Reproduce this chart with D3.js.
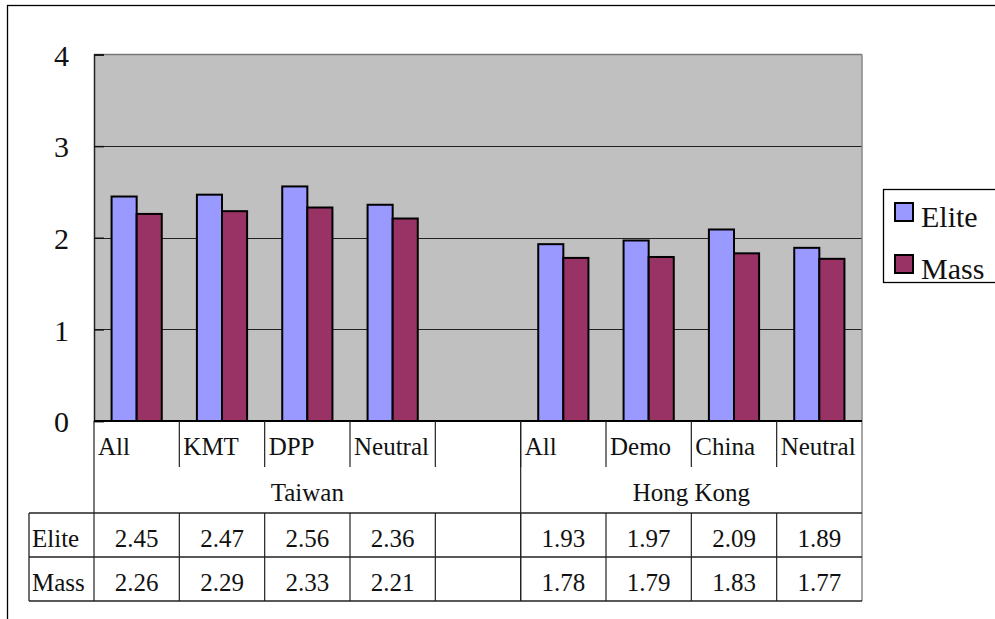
<!DOCTYPE html>
<html>
<head>
<meta charset="utf-8">
<script src="https://cdn.jsdelivr.net/npm/d3@7"></script>
<style>
  html, body { margin: 0; padding: 0; background: #fff; }
  svg { display: block; }
  svg text { font-family: "Liberation Serif", "Times New Roman", Tinos, "DejaVu Serif", "Noto Serif", serif !important; fill: #111; }
</style>
</head>
<body>
<svg id="chart" width="995" height="619"></svg>
<script>
// Categories along the x axis (blank slot separates the two regions)
const categories = ["All", "KMT", "DPP", "Neutral", "", "All", "Demo", "China", "Neutral"];
// Region labels and the category slots each one spans
const groupNames = ["Taiwan", "Hong Kong"];
const groupStart = [0, 5];
const groupEnd = [4, 8];
// Series
const seriesNames = ["Elite", "Mass"];
const eliteValues = [2.45, 2.47, 2.56, 2.36, null, 1.93, 1.97, 2.09, 1.89];
const massValues  = [2.26, 2.29, 2.33, 2.21, null, 1.78, 1.79, 1.83, 1.77];
// Y axis ticks
const yTicks = [0, 1, 2, 3, 4];

const colors = { Elite: "#9999ff", Mass: "#993366" };
const seriesValues = { Elite: eliteValues, Mass: massValues };
const serif = "'Liberation Serif', 'Times New Roman', Tinos, 'DejaVu Serif', 'Noto Serif', serif";

const svg = d3.select("#chart").attr("font-family", serif);

// Outer chart frame
svg.append("rect")
  .attr("x", 7.5).attr("y", 5.5)
  .attr("width", 1100).attr("height", 700)
  .attr("fill", "none").attr("stroke", "#000").attr("stroke-width", 1.3);

const plotLeft = 94, plotRight = 862, plotTop = 54.5, plotBottom = 421;

const x = d3.scaleBand()
  .domain(d3.range(categories.length))
  .range([plotLeft, plotRight])
  .padding(0);

const xInner = d3.scaleBand()
  .domain(seriesNames)
  .range([0, x.bandwidth()])
  .paddingInner(0)
  .paddingOuter(0.7);

const y = d3.scaleLinear().domain([0, 4]).range([plotBottom, plotTop]);

// Plot area background
svg.append("rect")
  .attr("x", plotLeft).attr("y", plotTop)
  .attr("width", plotRight - plotLeft).attr("height", plotBottom - plotTop)
  .attr("fill", "#c0c0c0");

// Gridlines
svg.append("g")
  .selectAll("line")
  .data(yTicks.filter(t => t > 0 && t < 4))
  .join("line")
  .attr("x1", plotLeft).attr("x2", plotRight)
  .attr("y1", d => Math.round(y(d)) + 0.5).attr("y2", d => Math.round(y(d)) + 0.5)
  .attr("stroke", "#222").attr("stroke-width", 1);

// Plot border: top and right in grey
svg.append("line")
  .attr("x1", plotLeft).attr("x2", plotRight).attr("y1", plotTop).attr("y2", plotTop)
  .attr("stroke", "#777").attr("stroke-width", 1.5);
svg.append("line")
  .attr("x1", plotRight).attr("x2", plotRight).attr("y1", plotTop).attr("y2", 601)
  .attr("stroke", "#888").attr("stroke-width", 1.5);

// Bars
seriesNames.forEach(s => {
  svg.append("g")
    .selectAll("rect")
    .data(seriesValues[s].map((v, i) => ({ i, v })).filter(d => d.v != null))
    .join("rect")
    .attr("x", d => x(d.i) + xInner(s))
    .attr("y", d => y(d.v))
    .attr("width", xInner.bandwidth())
    .attr("height", d => y(0) - y(d.v))
    .attr("fill", colors[s])
    .attr("stroke", "#000")
    .attr("stroke-width", 2);
});

// Y axis
const yAxis = d3.axisLeft(y).tickValues(yTicks).tickSize(-10).tickPadding(25).tickFormat(d3.format("d"));
const yg = svg.append("g").attr("transform", `translate(${plotLeft},0)`).call(yAxis)
  .attr("font-family", serif);
yg.select(".domain").attr("stroke", "#222").attr("stroke-width", 1.5);
yg.selectAll(".tick line").attr("stroke", "#111").attr("stroke-width", 1.5);
yg.selectAll(".tick text")
  .attr("font-size", 30)
  .attr("fill", "#222")
  .attr("dy", "0.36em");

// X axis baseline
svg.append("line")
  .attr("x1", plotLeft).attr("x2", plotRight).attr("y1", plotBottom).attr("y2", plotBottom)
  .attr("stroke", "#000").attr("stroke-width", 1.8);

// Category row
const catRowBottom = 467, groupRowBottom = 513, row1Bottom = 557, row2Bottom = 601;
const tableLeft = 29;
const lineColor = "#222";

// separators between categories in the category row
svg.append("g")
  .selectAll("line")
  .data(d3.range(1, categories.length))
  .join("line")
  .attr("x1", i => x(i)).attr("x2", i => x(i))
  .attr("y1", plotBottom).attr("y2", catRowBottom)
  .attr("stroke", lineColor).attr("stroke-width", 1.2);

svg.append("g")
  .selectAll("text")
  .data(categories)
  .join("text")
  .attr("x", (d, i) => x(i) + 4)
  .attr("y", 455)
  .attr("font-size", 25)
  .text(d => d);

// Region row
svg.append("g")
  .selectAll("text")
  .data(groupNames)
  .join("text")
  .attr("x", (d, k) => (x(groupStart[k]) + x(groupEnd[k]) + x.bandwidth()) / 2)
  .attr("y", 501)
  .attr("text-anchor", "middle")
  .attr("font-size", 25)
  .text(d => d);

// Region divider (full height through region row and data table)
svg.append("line")
  .attr("x1", x(groupStart[1])).attr("x2", x(groupStart[1]))
  .attr("y1", plotBottom).attr("y2", row2Bottom)
  .attr("stroke", lineColor).attr("stroke-width", 1.2);

// Left edge of category/region rows and table
svg.append("line")
  .attr("x1", plotLeft).attr("x2", plotLeft).attr("y1", plotBottom).attr("y2", row2Bottom)
  .attr("stroke", lineColor).attr("stroke-width", 1.2);

// Table horizontal lines
[groupRowBottom, row1Bottom, row2Bottom].forEach(yy => {
  svg.append("line")
    .attr("x1", tableLeft).attr("x2", plotRight).attr("y1", yy).attr("y2", yy)
    .attr("stroke", lineColor).attr("stroke-width", 1.3);
});
svg.append("line")
  .attr("x1", tableLeft).attr("x2", tableLeft).attr("y1", groupRowBottom).attr("y2", row2Bottom)
  .attr("stroke", lineColor).attr("stroke-width", 1.3);

// Table vertical lines between value cells
svg.append("g")
  .selectAll("line")
  .data(d3.range(1, categories.length))
  .join("line")
  .attr("x1", i => x(i)).attr("x2", i => x(i))
  .attr("y1", groupRowBottom).attr("y2", row2Bottom)
  .attr("stroke", lineColor).attr("stroke-width", 1.2);

// Table rows
const rowBaselines = [547, 591];
seriesNames.forEach((s, r) => {
  svg.append("text")
    .attr("x", tableLeft + 3)
    .attr("y", rowBaselines[r])
    .attr("font-size", 25)
    .text(s);
  svg.append("g")
    .selectAll("text")
    .data(seriesValues[s].map((v, i) => ({ i, v })).filter(d => d.v != null))
    .join("text")
    .attr("x", d => x(d.i) + x.bandwidth() / 2)
    .attr("y", rowBaselines[r])
    .attr("text-anchor", "middle")
    .attr("font-size", 25)
    .text(d => d3.format(".2f")(d.v));
});

// Legend
const legend = svg.append("g");
legend.append("rect")
  .attr("x", 883.5).attr("y", 189.5)
  .attr("width", 130).attr("height", 93)
  .attr("fill", "#fff").attr("stroke", "#000").attr("stroke-width", 1.3);
seriesNames.forEach((s, k) => {
  const yy = 203 + k * 52;
  legend.append("rect")
    .attr("x", 895).attr("y", yy)
    .attr("width", 18).attr("height", 18)
    .attr("fill", colors[s]).attr("stroke", "#000").attr("stroke-width", 2);
  legend.append("text")
    .attr("x", 921).attr("y", yy + 24)
    .attr("font-size", 30)
    .text(s);
});
</script>
</body>
</html>
